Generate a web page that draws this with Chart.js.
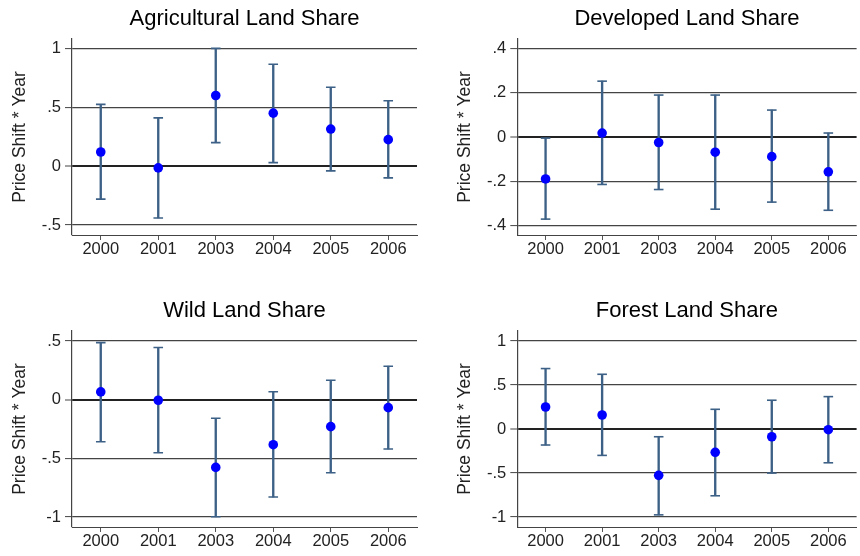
<!DOCTYPE html>
<html>
<head>
<meta charset="utf-8">
<script src="https://cdn.jsdelivr.net/npm/chart.js@4.4.0/dist/chart.umd.min.js"></script>
<style>
  html, body { margin: 0; padding: 0; background: #fff; }
  body { width: 860px; height: 556px; overflow: hidden; position: relative; }
  canvas { position: absolute; }
</style>
</head>
<body>
<canvas id="agChart" width="430" height="264" style="left:0;top:0"></canvas>
<canvas id="devChart" width="433" height="264" style="left:430px;top:0"></canvas>
<canvas id="wildChart" width="430" height="264" style="left:0;top:292px"></canvas>
<canvas id="forestChart" width="433" height="264" style="left:430px;top:292px"></canvas>
<script>
const years = ['2000', '2001', '2003', '2004', '2005', '2006'];

// point estimates and confidence bounds, one set per panel
const agEst = [0.12, -0.015, 0.60, 0.45, 0.315, 0.225];
const agLow = [-0.28, -0.44, 0.20, 0.03, -0.04, -0.10];
const agHigh = [0.525, 0.41, 1.00, 0.865, 0.67, 0.555];
const agTicks = [-0.5, 0, 0.5, 1];

const devEst = [-0.19, 0.018, -0.025, -0.069, -0.089, -0.158];
const devLow = [-0.372, -0.215, -0.238, -0.327, -0.295, -0.332];
const devHigh = [-0.005, 0.253, 0.19, 0.19, 0.122, 0.018];
const devTicks = [-0.4, -0.2, 0, 0.2, 0.4];

const wildEst = [0.066, -0.005, -0.577, -0.384, -0.23, -0.068];
const wildLow = [-0.358, -0.452, -0.998, -0.83, -0.623, -0.42];
const wildHigh = [0.486, 0.444, -0.159, 0.068, 0.165, 0.285];
const wildTicks = [-1, -0.5, 0, 0.5];

const forestEst = [0.25, 0.159, -0.527, -0.265, -0.088, -0.008];
const forestLow = [-0.182, -0.30, -0.976, -0.759, -0.501, -0.384];
const forestHigh = [0.687, 0.622, -0.088, 0.224, 0.327, 0.368];
const forestTicks = [-1, -0.5, 0, 0.5, 1];

const font = "'Liberation Sans', Arial, Helvetica, sans-serif";
const barColor = '#3d6186';
const dotColor = '#0000ff';

// Stata style labels: .5 instead of 0.5
function tickLabel(v) {
    return String(v).replace('0.', '.');
}

function makePanel(id, title, est, low, high, ticks, yMin, yMax, padLeft, padRight) {
    return new Chart(document.getElementById(id), {
        type: 'bar',
        data: {
            labels: years,
            datasets: [
                { type: 'line', data: est, showLine: false, pointRadius: 4.8, pointBackgroundColor: dotColor, pointBorderWidth: 0, order: 0 },
                { type: 'line', data: low, showLine: false, pointStyle: 'line', pointRadius: 4.8, pointBorderColor: barColor, pointBorderWidth: 1.6, order: 1 },
                { type: 'line', data: high, showLine: false, pointStyle: 'line', pointRadius: 4.8, pointBorderColor: barColor, pointBorderWidth: 1.6, order: 1 },
                { data: low.map((l, i) => [l, high[i]]), backgroundColor: barColor, barThickness: 1.7, order: 2 }
            ]
        },
        options: {
            responsive: false,
            animation: false,
            events: [],
            layout: { padding: { left: padLeft, right: padRight, top: 0, bottom: 0 } },
            plugins: {
                legend: { display: false },
                tooltip: { enabled: false },
                title: {
                    display: true,
                    text: title,
                    fullSize: false,
                    color: '#000',
                    font: { family: font, size: 22, weight: 'normal', lineHeight: 1.2 },
                    padding: { top: 6, bottom: 6.6 }
                }
            },
            scales: {
                x: {
                    offset: true,
                    grid: { display: true, drawOnChartArea: false, offset: false, tickLength: 5, color: '#555' },
                    border: { color: '#444', width: 1 },
                    ticks: { color: '#222', font: { family: font, size: 16.5 }, padding: 0, maxRotation: 0 },
                    afterFit: s => { s.height = 29; }
                },
                y: {
                    min: yMin,
                    max: yMax,
                    afterBuildTicks: s => { s.ticks = ticks.map(v => ({ value: v })); },
                    grid: {
                        color: ctx => ctx.tick && ctx.tick.value === 0 ? '#222' : '#444',
                        lineWidth: ctx => ctx.tick && ctx.tick.value === 0 ? 2 : 1.2,
                        tickLength: 7,
                        tickColor: '#444',
                        tickWidth: 1
                    },
                    border: { color: '#444', width: 1.2 },
                    ticks: { color: '#222', font: { family: font, size: 16.5 }, padding: 4, callback: v => tickLabel(v) },
                    title: {
                        display: true,
                        text: 'Price Shift * Year',
                        color: '#222',
                        font: { family: font, size: 17.5, lineHeight: 1.2 },
                        padding: { top: 0.5, bottom: 0 }
                    },
                    afterFit: s => { s.width = 63; }
                }
            }
        }
    });
}

makePanel('agChart', 'Agricultural Land Share', agEst, agLow, agHigh, agTicks, -0.585, 1.08, 9, 13);
makePanel('devChart', 'Developed Land Share', devEst, devLow, devHigh, devTicks, -0.444, 0.444, 24.3, 0);
makePanel('wildChart', 'Wild Land Share', wildEst, wildLow, wildHigh, wildTicks, -1.085, 0.585, 9, 13);
makePanel('forestChart', 'Forest Land Share', forestEst, forestLow, forestHigh, forestTicks, -1.114, 1.114, 24.3, 0);
</script>
</body>
</html>
